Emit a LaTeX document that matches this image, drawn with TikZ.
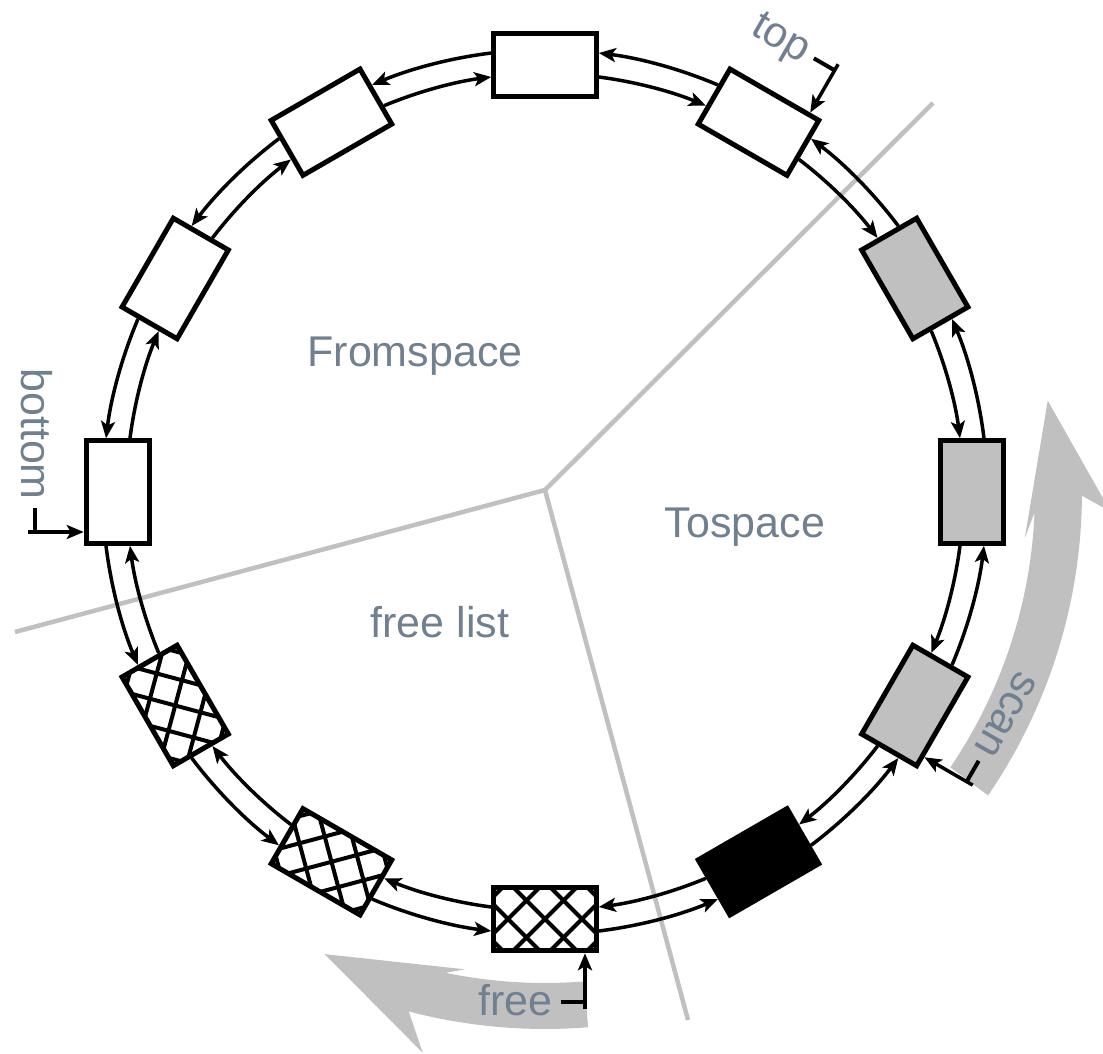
\documentclass[tikz,border=0pt]{standalone}
\usepackage{fontspec}
\usepackage{tikz}
\usetikzlibrary{arrows.meta, calc}
\newfontfamily\labelfont{Liberation Sans}
\definecolor{ringgray}{HTML}{C0C0C0}
\definecolor{slate}{HTML}{708090}
\tikzset{
	box/.style={draw, line width=5pt, fill=white, minimum width=102.5pt, minimum height=63.5pt, inner sep=0pt},
	hatch/.style={line width=4pt},
	link/.style={line width=3.5pt, looseness=0.85, -{Stealth[length=17pt, width=14pt, inset=4pt]}},
	ptr/.style={line width=3.5pt, -{Stealth[length=17pt, width=14pt, inset=4pt]}},
	bar/.style={line width=4pt},
	divider/.style={line width=4.5pt, ringgray},
	area/.style={font={\labelfont\fontsize{43}{52}\selectfont}, text=slate},
	tag/.style={font={\labelfont\fontsize{43}{52}\selectfont}, text=slate, inner sep=0pt, anchor=base east}
}

\begin{document}
\begin{tikzpicture}[x=1pt, y=1pt]
	\useasboundingbox (-545,-561) rectangle (558,492);
	% Regions and sweep arrows:
	\coordinate (hub) at (0,2);
	\coordinate (c1) at (388,389);
	\coordinate (c2) at (-530,-140);
	\coordinate (c3) at (143,-528);
	\draw[divider] (hub) -- (c1) (hub) -- (c2) (hub) -- (c3);
	\fill[ringgray] (-34.2:490) arc[start angle=-34.2, end angle=-2.4, radius=490] -- (-5.5:482) -- (10.3:511) -- (-2:566) -- (-0.4:537) arc[start angle=-0.4, end angle=-34.4, radius=537] -- cycle;
	\fill[ringgray] (-85.4:491) arc[start angle=-85.4, end angle=-101.7, radius=491] -- (-99.5:484) -- (-115.5:512) -- (-102.3:574) -- (-104.7:537) arc[start angle=-104.7, end angle=-85.4, radius=537] -- cycle;
	\node[area] (from) at (-130,136) {Fromspace};
	\node[area] (to) at (200,-35) {Tospace};
	\node[area] (fl) at (-105,-130) {free list};

	% Ring of cells:
	\node[box] (n0) at (90:427) {};
	\node[box, rotate=-30] (n1) at (60:427) {};
	\node[box, rotate=-60, fill=ringgray] (n2) at (30:427) {};
	\node[box, rotate=-90, fill=ringgray] (n3) at (0:427) {};
	\node[box, rotate=-120, fill=ringgray] (n4) at (-30:427) {};
	\node[box, rotate=-150, fill=black] (n5) at (-60:427) {};
	\node[box, rotate=-180] (n6) at (-90:427) {};
	\node[box, rotate=-210] (n7) at (-120:427) {};
	\node[box, rotate=-240] (n8) at (-150:427) {};
	\node[box, rotate=90] (n9) at (180:427) {};
	\node[box, rotate=60] (n10) at (150:427) {};
	\node[box, rotate=30] (n11) at (120:427) {};
	\foreach \b/\r in {n6/-180, n7/-210, n8/-240} {
		\begin{scope}[shift={(\b.center)}, rotate=\r]
			\clip (-51.25,-31.75) rectangle (51.25,31.75);
			\foreach \k in {-3,...,3} {
				\draw[hatch] (37*\k-70,-70) -- ++(140,140);
				\draw[hatch] (37*\k+70,-70) -- ++(-140,140);
			}
		\end{scope}
	}

	% Links, inner one way and outer the other:
	\foreach \i/\j in {0/1,1/2,2/3,3/4,4/5,5/6,6/7,7/8,8/9,9/10,10/11,11/0} {
		\draw[link] ($(n\i.east)!.35!(n\i.south east)$) to[bend left=7.6] ($(n\j.west)!.35!(n\j.south west)$);
		\draw[link] ($(n\j.west)!.35!(n\j.north west)$) to[bend right=8] ($(n\i.east)!.35!(n\i.north east)$);
	}

	% Pointers:
	\begin{scope}[shift={(n1.center)}, rotate=-30]
		\node[tag, rotate=-30] (top) at (8,72) {top};
		\coordinate (top1) at (16,83);
		\coordinate (top2) at (40,83);
		\coordinate (top3) at (40,90);
		\coordinate (top4) at (40,34.25);
	\end{scope}
	\draw[bar] (top1) -- (top2);
	\draw[ptr] (top3) -- (top4);
	\begin{scope}[shift={(n9.center)}, rotate=90]
		\node[tag, rotate=-90] (bot) at (-8,96) {bottom};
		\coordinate (bot1) at (-16,83);
		\coordinate (bot2) at (-40,83);
		\coordinate (bot3) at (-40,90);
		\coordinate (bot4) at (-40,34.25);
	\end{scope}
	\draw[bar] (bot1) -- (bot2);
	\draw[ptr] (bot3) -- (bot4);
	\begin{scope}[shift={(n4.center)}, rotate=-120]
		\node[tag, rotate=-120] (scan) at (8,72) {scan};
		\coordinate (scan1) at (16,83);
		\coordinate (scan2) at (40,83);
		\coordinate (scan3) at (40,90);
		\coordinate (scan4) at (40,34.25);
	\end{scope}
	\draw[bar] (scan1) -- (scan2);
	\draw[ptr] (scan3) -- (scan4);
	\begin{scope}[shift={(n6.center)}, rotate=-180]
		\node[tag, rotate=0] (free) at (-8,96) {free};
		\coordinate (free1) at (-16,83);
		\coordinate (free2) at (-40,83);
		\coordinate (free3) at (-40,90);
		\coordinate (free4) at (-40,34.25);
	\end{scope}
	\draw[bar] (free1) -- (free2);
	\draw[ptr] (free3) -- (free4);
\end{tikzpicture}
\end{document}
